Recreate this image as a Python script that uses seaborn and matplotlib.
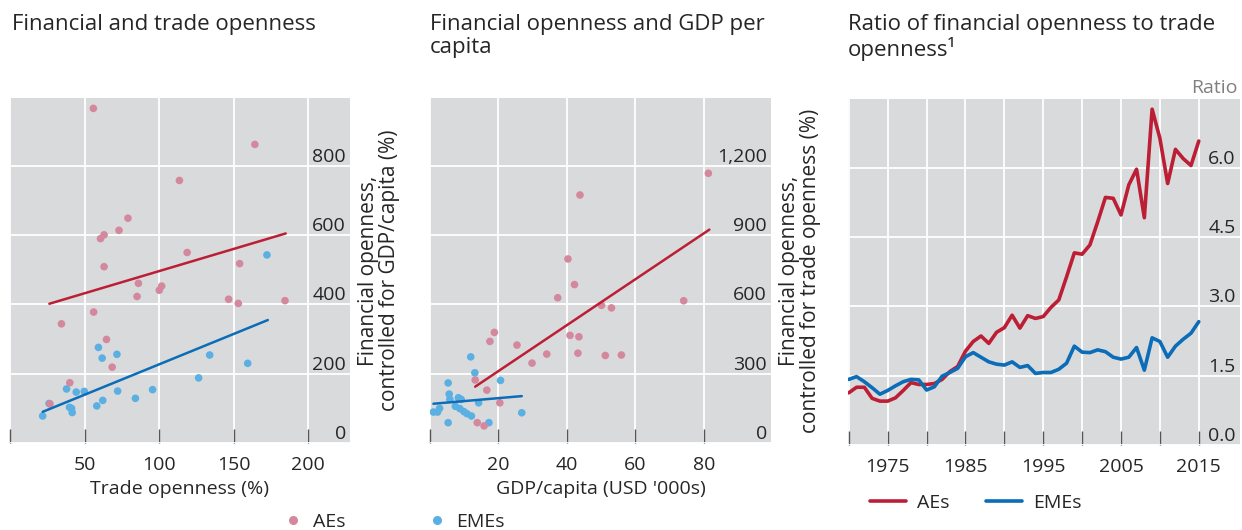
import matplotlib
matplotlib.use("Agg")
import matplotlib.pyplot as plt
from matplotlib.lines import Line2D
import numpy as np
import pandas as pd
import seaborn as sns

# ---------------- data ----------------
# Panel 1: financial openness (controlled for GDP/capita) vs trade openness
p1_ae_trade = [55.9, 164.2, 113.6, 79.1, 73.1, 63.1, 60.7, 118.8, 154.0, 63.1, 86.1, 101.7,
               100.1, 85.2, 146.6, 184.4, 153.1, 56.1, 34.5, 64.7, 68.5, 40.1, 26.8]
p1_ae_fin = [966, 862, 758, 649, 614, 601, 590, 550, 518, 509, 461, 453,
             441, 423, 415, 411, 403, 378, 344, 299, 219, 174, 113]
p1_eme_trade = [172.3, 59.3, 71.7, 61.8, 133.9, 159.4, 126.5, 37.9, 49.8, 44.4, 72.2, 95.6,
                62.2, 84.1, 26.2, 58.2, 39.9, 41.3, 41.7, 21.9]
p1_eme_fin = [543, 276, 256, 245, 254, 230, 188, 156, 149, 147, 150, 154,
              123, 129, 114, 107, 103, 100, 88, 78]
p1_fit_ae_x = [26.4, 184.9]
p1_fit_ae_y = [402, 605]
p1_fit_eme_x = [21.9, 172.9]
p1_fit_eme_y = [90, 355]

# Panel 2: financial openness (controlled for trade openness) vs GDP per capita
p2_ae_gdp = [81.3, 43.8, 40.3, 42.2, 37.3, 74.1, 50.1, 53.0, 18.8, 43.5, 40.9, 17.5,
             25.4, 34.1, 43.2, 51.2, 55.9, 29.8, 13.2, 16.6, 20.4, 13.8, 15.8]
p2_ae_fin = [1168, 1074, 797, 686, 629, 616, 596, 585, 479, 460, 466, 440,
             424, 385, 389, 379, 381, 346, 273, 229, 174, 88, 74]
p2_eme_gdp = [11.9, 13.1, 20.6, 5.3, 5.6, 5.8, 8.3, 9.1, 14.2, 7.4, 8.7, 9.9,
              10.8, 12.1, 2.8, 2.2, 1.0, 26.8, 5.3, 17.2]
p2_eme_fin = [373, 304, 271, 260, 212, 189, 196, 189, 174, 159, 149, 136,
              127, 117, 150, 134, 134, 131, 88, 88]
p2_fit_ae_x = [13.2, 81.6]
p2_fit_ae_y = [244, 924]
p2_fit_eme_x = [1.0, 26.8]
p2_fit_eme_y = [170, 203]

# Panel 3: ratio of financial openness to trade openness
years = list(range(1970, 2016))
ratio_ae = [1.13, 1.25, 1.25, 1.01, 0.95, 0.95, 1.02, 1.18, 1.35, 1.31,
            1.31, 1.33, 1.42, 1.59, 1.70, 2.03, 2.24, 2.36, 2.20, 2.44,
            2.54, 2.81, 2.53, 2.80, 2.74, 2.78, 2.98, 3.14, 3.64, 4.16,
            4.13, 4.33, 4.83, 5.36, 5.34, 4.98, 5.63, 5.97, 4.92, 7.27,
            6.64, 5.66, 6.40, 6.20, 6.05, 6.58]
ratio_eme = [1.42, 1.48, 1.37, 1.24, 1.10, 1.18, 1.28, 1.37, 1.42, 1.41,
             1.19, 1.26, 1.49, 1.57, 1.66, 1.91, 2.00, 1.90, 1.80, 1.75,
             1.73, 1.80, 1.68, 1.72, 1.55, 1.57, 1.57, 1.64, 1.77, 2.14,
             2.01, 2.00, 2.06, 2.02, 1.90, 1.86, 1.90, 2.11, 1.62, 2.32,
             2.24, 1.90, 2.14, 2.29, 2.42, 2.67]

groups = ["AEs", "EMEs"]

# ---------------- style ----------------
sns.set_theme(style="white")
plt.rcParams["font.family"] = ["Open Sans", "DejaVu Sans"]

BG = "#D9DADC"
TXT = "#262626"
PT_COL = {"AEs": "#D4889E", "EMEs": "#5BB0E3"}
LN_COL = {"AEs": "#BC1F35", "EMEs": "#0B6DB7"}
FS = 14

W, H = 1242, 530
fig = plt.figure(figsize=(W / 100, H / 100), dpi=100)


def axes_px(x0, y0, x1, y1):
    return fig.add_axes([x0 / W, 1 - y1 / H, (x1 - x0) / W, (y1 - y0) / H])


ax1 = axes_px(10, 98, 350, 443)
ax2 = axes_px(430, 98, 771, 443)
ax3 = axes_px(848, 99, 1240, 445)


def style(ax, xlim, ylim, xticks, xlabels, yticks, ylabels):
    ax.set_facecolor(BG)
    ax.set_xlim(*xlim)
    ax.set_ylim(*ylim)
    ax.set_xticks(xticks)
    ax.set_xticklabels(xlabels)
    ax.set_yticks(yticks)
    ax.set_yticklabels(ylabels)
    ax.grid(True, color="white", lw=1.3)
    ax.set_axisbelow(True)
    for s in ax.spines.values():
        s.set_visible(False)
    ax.tick_params(axis="x", direction="in", length=10, width=1.0, color="#555555",
                   pad=9, labelsize=FS, labelcolor=TXT, bottom=True)
    ax.yaxis.tick_right()
    ax.tick_params(axis="y", length=0, pad=-3, labelsize=FS, labelcolor=TXT)
    for lab in ax.get_yticklabels():
        lab.set_horizontalalignment("right")
        lab.set_verticalalignment("bottom")
    ax.set_xlabel("")
    ax.set_ylabel("")


def scatter_panel(ax, ae_x, ae_y, eme_x, eme_y, fit_ae, fit_eme):
    df = pd.DataFrame({
        "x": list(eme_x) + list(ae_x),
        "y": list(eme_y) + list(ae_y),
        "group": ["EMEs"] * len(eme_x) + ["AEs"] * len(ae_x),
    })
    sns.scatterplot(data=df, x="x", y="y", hue="group", palette=PT_COL, s=30,
                    linewidth=0, ax=ax, legend=False, zorder=3)
    sns.lineplot(x=fit_ae[0], y=fit_ae[1], color=LN_COL["AEs"], lw=1.8, ax=ax,
                 zorder=4, estimator=None)
    sns.lineplot(x=fit_eme[0], y=fit_eme[1], color=LN_COL["EMEs"], lw=1.8, ax=ax,
                 zorder=4, estimator=None)


scatter_panel(ax1, p1_ae_trade, p1_ae_fin, p1_eme_trade, p1_eme_fin,
              (p1_fit_ae_x, p1_fit_ae_y), (p1_fit_eme_x, p1_fit_eme_y))
style(ax1, (0, 228), (0, 996), [0, 50, 100, 150, 200], ["", "50", "100", "150", "200"],
      [0, 200, 400, 600, 800], ["0", "200", "400", "600", "800"])
ax1.set_xlabel("Trade openness (%)", fontsize=FS, color=TXT, labelpad=5)

scatter_panel(ax2, p2_ae_gdp, p2_ae_fin, p2_eme_gdp, p2_eme_fin,
              (p2_fit_ae_x, p2_fit_ae_y), (p2_fit_eme_x, p2_fit_eme_y))
style(ax2, (0, 99.6), (0, 1494), [0, 20, 40, 60, 80], ["", "20", "40", "60", "80"],
      [0, 300, 600, 900, 1200], ["0", "300", "600", "900", "1,200"])
ax2.set_xlabel("GDP/capita (USD '000s)", fontsize=FS, color=TXT, labelpad=5)

df3 = pd.DataFrame({
    "year": years + years,
    "ratio": ratio_ae + ratio_eme,
    "group": ["AEs"] * len(years) + ["EMEs"] * len(years),
})
sns.lineplot(data=df3, x="year", y="ratio", hue="group", palette=LN_COL, lw=2.6,
             ax=ax3, legend=False, estimator=None)
xt3 = list(range(1970, 2016, 5))
style(ax3, (1969.9, 2020.3), (0, 7.49), xt3,
      [str(y) if y % 10 == 5 else "" for y in xt3],
      [0, 1.5, 3.0, 4.5, 6.0], ["0.0", "1.5", "3.0", "4.5", "6.0"])

# y-axis titles (right side of panels 1 and 2)
for ax, lab in [(ax1, "Financial openness,\ncontrolled for GDP/capita (%)"),
                (ax2, "Financial openness,\ncontrolled for trade openness (%)")]:
    ax.yaxis.set_label_position("right")
    ax.set_ylabel(lab, fontsize=15, color=TXT, labelpad=6, linespacing=1.0)

# titles
TFS = 16
fig.text(12 / W, 1 - 14 / H, "Financial and trade openness", fontsize=TFS, color=TXT, va="top")
fig.text(430 / W, 1 - 14 / H, "Financial openness and GDP per\ncapita", fontsize=TFS,
         color=TXT, va="top", linespacing=1.1)
fig.text(848 / W, 1 - 14 / H, "Ratio of financial openness to trade\nopenness\u00b9", fontsize=TFS,
         color=TXT, va="top", linespacing=1.1)
fig.text(1238 / W, 1 - 93 / H, "Ratio", fontsize=FS, color="#808080", ha="right", va="baseline")

# legends
sc_handles = [Line2D([], [], marker="o", ls="", color=PT_COL[g], markersize=5.5) for g in groups]
fig.legend(sc_handles, groups, loc="center", bbox_to_anchor=(396 / W, 1 - 522 / H), ncol=2,
           frameon=False, handlelength=0.6, handletextpad=0.7, columnspacing=4.4,
           fontsize=FS, labelcolor=TXT, borderpad=0, borderaxespad=0)
ln_handles = [Line2D([], [], color=LN_COL[g], lw=2.6) for g in groups]
fig.legend(ln_handles, groups, loc="center", bbox_to_anchor=(976 / W, 1 - 503 / H), ncol=2,
           frameon=False, handlelength=1.85, handletextpad=0.55, columnspacing=1.9,
           fontsize=FS, labelcolor=TXT, borderpad=0, borderaxespad=0)

fig.savefig("out.png", dpi=100, facecolor="white")
